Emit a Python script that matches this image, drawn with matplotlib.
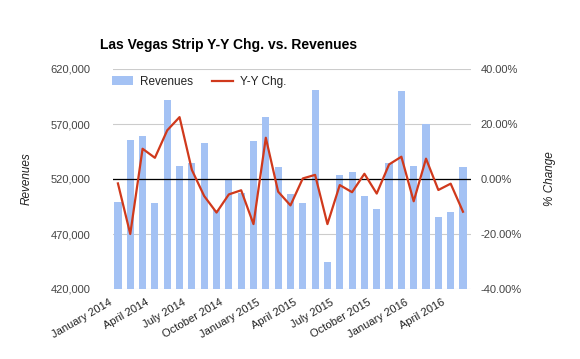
import matplotlib.pyplot as plt
import matplotlib.transforms as mtransforms
import numpy as np

plt.rcParams['font.family'] = ['Liberation Sans', 'DejaVu Sans']

months = ['January', 'February', 'March', 'April', 'May', 'June', 'July',
          'August', 'September', 'October', 'November', 'December']
labels = [f'{months[i % 12]} {2014 + i // 12}' for i in range(29)]

revenues = [498800, 555500, 559400, 497900, 592100, 531500, 534800, 552700,
            491800, 519700, 507200, 554600, 576400, 530600, 506100, 497900,
            600900, 444600, 523600, 526400, 504600, 492700, 534800, 600000,
            531800, 570000, 485800, 490000, 530600]
yy_chg = [-1.6, -20.0, 11.0, 7.7, 17.7, 22.5, 3.3, -6.2, -12.2, -5.6, -4.1,
          -16.4, 15.0, -4.6, -9.6, 0.2, 1.5, -16.4, -2.2, -4.8, 1.9, -5.3,
          5.3, 8.1, -8.1, 7.4, -4.0, -1.7, -11.9]

x = np.arange(len(revenues))

fig = plt.figure(figsize=(5.8, 3.59), dpi=100)
ax = fig.add_axes([113 / 580, 1 - 289 / 359, 358 / 580, 220 / 359])
ax2 = ax.twinx()

bars = ax.bar(x, revenues, width=0.58, color='#a4c2f4', label='Revenues', zorder=2)
ax.set_ylim(420000, 620000)
ax.set_yticks(np.arange(420000, 620001, 50000))
ax.set_yticklabels([f'{v:,}' for v in range(420000, 620001, 50000)])
ax.grid(axis='y', color='#cccccc', linewidth=0.8, zorder=0)
ax.set_axisbelow(True)

line, = ax2.plot(x, yy_chg, color='#d0391c', linewidth=1.6, label='Y-Y Chg.', zorder=4)
ax2.axhline(0, color='black', linewidth=0.9, zorder=3)
ax2.set_ylim(-40, 40)
ax2.set_yticks([-40, -20, 0, 20, 40])
ax2.set_yticklabels([f'{v:.2f}%' for v in [-40, -20, 0, 20, 40]])

ax.set_xticks(x[::3])
ax.set_xticklabels(labels[::3], rotation=30, ha='right', rotation_mode='anchor',
                   fontsize=8, color='#222222')
ax.set_xlim(-0.4, 28.65)

for a in (ax, ax2):
    for s in a.spines.values():
        s.set_visible(False)
    a.tick_params(length=0, labelsize=8, labelcolor='#444444')
ax.tick_params(axis='y', pad=16)
ax2.tick_params(axis='y', pad=7)
ax.tick_params(axis='x', pad=6, labelsize=8, labelcolor='#222222')

# labels sit a little left of their bar, as in the original
shift = mtransforms.ScaledTranslation(-9 / 100, 0, fig.dpi_scale_trans)
for lab in ax.get_xticklabels():
    lab.set_transform(lab.get_transform() + shift)

ax.set_ylabel('Revenues', fontstyle='italic', fontsize=8.5, color='#222222', labelpad=13)
ax2.set_ylabel('% Change', fontstyle='italic', fontsize=8.5, color='#222222', labelpad=16)

fig.text(100 / 580, 1 - 45 / 359, 'Las Vegas Strip Y-Y Chg. vs. Revenues',
         fontsize=10, fontweight='bold', va='center', ha='left')

ax2.legend([bars, line], ['Revenues', 'Y-Y Chg.'], loc='upper left', ncol=2,
           frameon=False, fontsize=8.5, handlelength=1.8, handleheight=0.8,
           handletextpad=0.6, columnspacing=1.6, borderaxespad=0,
           bbox_to_anchor=(-0.017, 0.99), labelcolor='#222222')

ax2.set_zorder(ax.get_zorder() + 1)
ax2.patch.set_visible(False)

fig.savefig('out.png', dpi=100)
